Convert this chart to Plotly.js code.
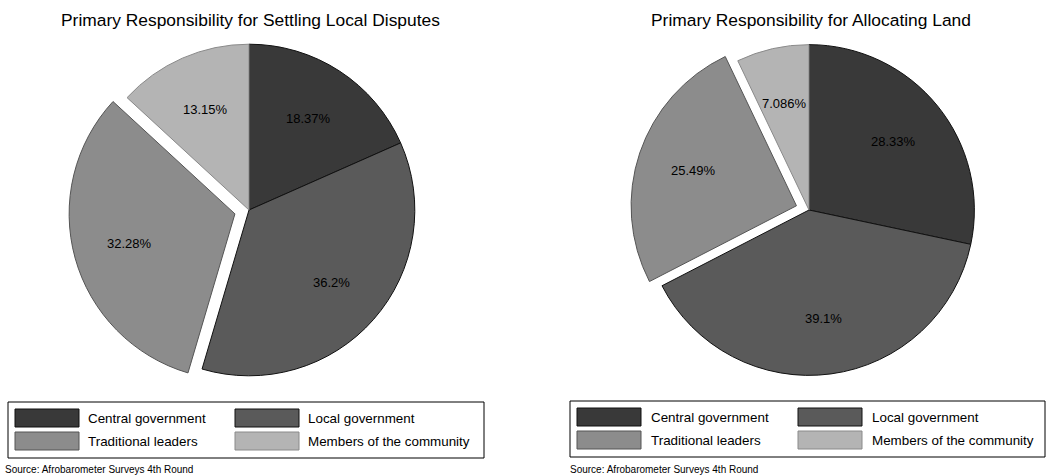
<!DOCTYPE html>
<html>
<head>
<meta charset="utf-8">
<script src="https://cdn.plot.ly/plotly-3.0.1.min.js"></script>
<style>html,body{margin:0;padding:0;background:#fff;}#chart{width:1052px;height:475px;}</style>
</head>
<body>
<div id="chart"></div>
<script>
const categories = ['Central government', 'Local government', 'Traditional leaders', 'Members of the community'];
const disputesValues = [18.37, 36.2, 32.28, 13.15];
const landValues = [28.33, 39.1, 25.49, 7.086];
const disputesPull = [0, 0, 0.088, 0];
const landPull = [0, 0, 0.08, 0];
const titles = ['Primary Responsibility for Settling Local Disputes', 'Primary Responsibility for Allocating Land'];
const sourceNote = 'Source: Afrobarometer Surveys 4th Round';

const fills = ['#393939', '#5a5a5a', '#8c8c8c', '#b4b4b4'];
const edges = ['#111111', '#111111', '#555555', '#8a8a8a'];

const W = 1052, H = 475;
const px = x => x / W;
const py = y => 1 - y / H;
const font = {family: 'Liberation Sans, Arial, sans-serif', color: '#000'};

// pie frames in pixels: [x0, x1, y0(top), y1(bottom)]
const frames = [[68.5, 429.5, 29.6, 390.4], [630.4, 987.6, 31.4, 388.6]];

function pieTrace(values, pull, f) {
  return {
    type: 'pie',
    labels: categories,
    values: values,
    pull: pull,
    sort: false,
    direction: 'clockwise',
    rotation: 0,
    marker: {colors: fills, line: {color: edges, width: 1}},
    textinfo: 'none',
    hoverinfo: 'label+value',
    showlegend: false,
    domain: {x: [px(f[0]), px(f[1])], y: [py(f[3]), py(f[2])]}
  };
}

const data = [
  pieTrace(disputesValues, disputesPull, frames[0]),
  pieTrace(landValues, landPull, frames[1])
];

const shapes = [];
const annotations = [];

// slice labels placed along each slice bisector (same geometry as the pie)
[[disputesValues, disputesPull, frames[0]], [landValues, landPull, frames[1]]].forEach(([vals, pull, f]) => {
  const cx = (f[0] + f[1]) / 2, cy = (f[2] + f[3]) / 2;
  const maxPull = Math.max(...pull);
  const r = Math.min(f[1] - f[0], f[3] - f[2]) / 2 / (1 + maxPull);
  const total = vals.reduce((a, b) => a + b, 0);
  let cum = 0;
  vals.forEach((v, i) => {
    const mid = (cum + v / 2) / total * 2 * Math.PI;
    cum += v;
    const d = r * (0.66 + pull[i]);
    annotations.push({xref: 'paper', yref: 'paper', x: px(cx + d * Math.sin(mid)), y: py(cy - d * Math.cos(mid)),
      text: v + '%', showarrow: false, xanchor: 'center', yanchor: 'middle', font: Object.assign({size: 13}, font)});
  });
});

// titles
[[250, titles[0]], [811, titles[1]]].forEach(([cx, t]) => {
  annotations.push({xref: 'paper', yref: 'paper', x: px(cx), y: py(20), text: t, showarrow: false,
    xanchor: 'center', yanchor: 'middle', font: Object.assign({size: 17.4}, font)});
});

// legends
const legendBoxes = [
  {box: [8, 402, 484, 458], col: [15, 235], rows: [409, 432], textOff: 71, src: 3},
  {box: [570, 401, 1045, 457], col: [577, 798], rows: [408, 431], textOff: 72, src: 568}
];
legendBoxes.forEach(L => {
  shapes.push({type: 'rect', xref: 'paper', yref: 'paper', x0: px(L.box[0]), x1: px(L.box[2]),
    y0: py(L.box[3]), y1: py(L.box[1]), line: {color: '#000', width: 1}, fillcolor: 'rgba(0,0,0,0)'});
  categories.forEach((c, i) => {
    const ci = i % 2, ri = Math.floor(i / 2);
    const x0 = L.col[ci], y0 = L.rows[ri];
    shapes.push({type: 'rect', xref: 'paper', yref: 'paper', x0: px(x0), x1: px(x0 + 64),
      y0: py(y0 + 18), y1: py(y0), fillcolor: fills[i], line: {color: edges[i], width: 1}});
    annotations.push({xref: 'paper', yref: 'paper', x: px(x0 + L.textOff), y: py(y0 + 9), text: c,
      showarrow: false, xanchor: 'left', yanchor: 'middle', font: Object.assign({size: 13.4}, font)});
  });
  annotations.push({xref: 'paper', yref: 'paper', x: px(L.src), y: py(469), text: sourceNote,
    showarrow: false, xanchor: 'left', yanchor: 'middle', font: Object.assign({size: 10}, font)});
});

const layout = {
  width: W, height: H,
  margin: {l: 0, r: 0, t: 0, b: 0},
  paper_bgcolor: '#fff', plot_bgcolor: '#fff',
  showlegend: false,
  shapes: shapes,
  annotations: annotations
};

Plotly.newPlot('chart', data, layout, {displayModeBar: false, staticPlot: true});
</script>
</body>
</html>
